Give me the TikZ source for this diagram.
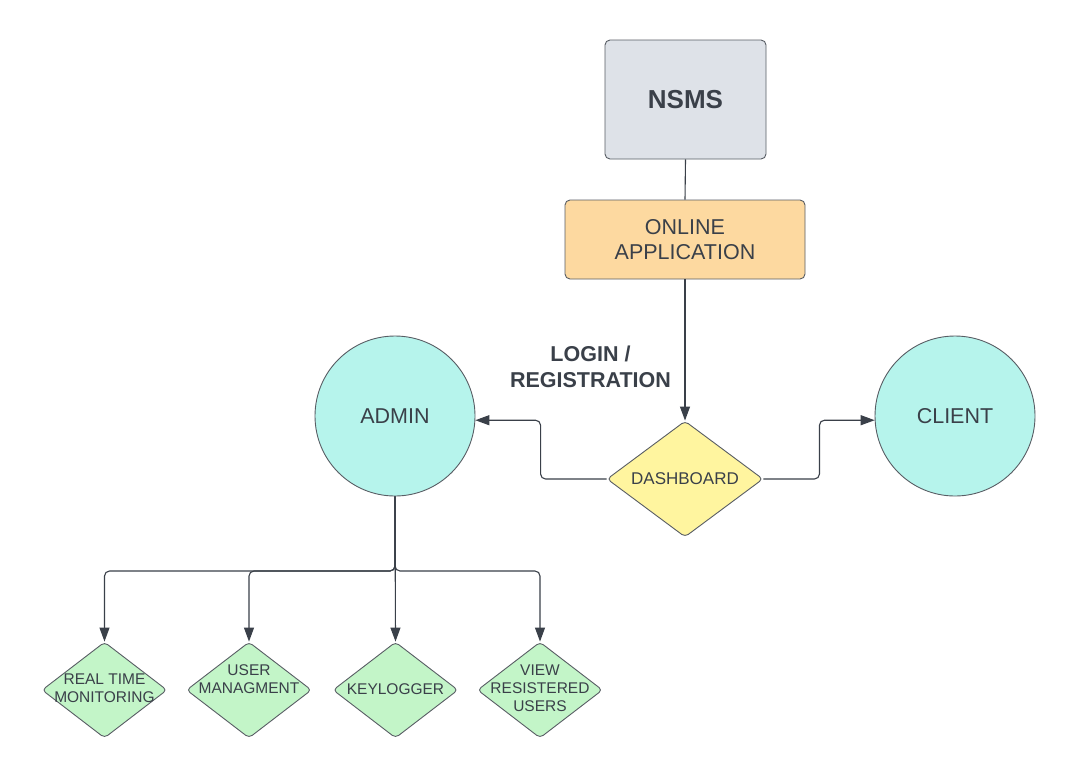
\documentclass[tikz,border=0pt]{standalone}
\usepackage{fontspec}
\setmainfont{Liberation Sans}
\usetikzlibrary{shapes.geometric,arrows.meta}
\definecolor{ink}{HTML}{3A4049}
\definecolor{nsmsfill}{HTML}{DEE2E8}
\definecolor{oafill}{HTML}{FDD9A0}
\definecolor{dashfill}{HTML}{FFF59F}
\definecolor{circfill}{HTML}{B6F4EC}
\definecolor{greenfill}{HTML}{C3F5C8}
\begin{document}
\begin{tikzpicture}[x=1pt,y=-1pt,
  every node/.style={text=ink},
  rbox/.style={draw=ink!85, line width=0.9pt, rounded corners=5pt, align=center},
  circ/.style={circle, draw=ink!85, line width=0.9pt, fill=circfill, minimum size=160pt, inner sep=0pt, font=\fontsize{21.5}{25}\selectfont},
  gdia/.style={diamond, draw=ink!85, line width=0.9pt, fill=greenfill, minimum width=125pt, minimum height=96pt, inner sep=0pt, rounded corners=4pt},
  gtext/.style={align=center, inner sep=0pt, font=\fontsize{15.5}{18}\selectfont},
  conn/.style={draw=ink, line width=1.1pt},
  arr/.style={conn, -{Triangle[length=14pt,width=10pt]}, rounded corners=5pt}
]
\useasboundingbox (0,0) rectangle (1075,780);
\fill[white] (0,0) rectangle (1075,780);

\node[rbox, fill=nsmsfill, minimum width=161pt, minimum height=119pt, font=\fontsize{26}{30}\selectfont\bfseries] (nsms) at (685.5,99.5) {NSMS};
\node[rbox, fill=oafill, minimum width=240pt, minimum height=79pt, font=\fontsize{21.5}{25}\selectfont] (oa) at (685,239.5) {ONLINE\\APPLICATION};
\node[diamond, aspect=1.345, draw=ink!85, line width=0.9pt, fill=dashfill, minimum width=156pt, minimum height=116pt, inner sep=0pt, rounded corners=4pt, font=\fontsize{17}{20}\selectfont] (dash) at (685,479) {DASHBOARD};
\node[circ] (admin) at (395,416) {ADMIN};
\node[circ] (client) at (955,416) {CLIENT};
\node[align=center, font=\fontsize{21.5}{26}\selectfont\bfseries] (login) at (590.5,367) {LOGIN /\\REGISTRATION};

\node[gdia] (rt) at (104.5,690) {};
\node[gdia] (um) at (249,690) {};
\node[gdia] (kl) at (395.5,690) {};
\node[gdia] (vr) at (540,690) {};
\node[gtext] (rtt) at (104.5,688) {REAL TIME\\MONITORING};
\node[gtext] (umt) at (249,679) {USER\\MANAGMENT};
\node[gtext] (klt) at (395.5,689) {KEYLOGGER};
\node[gtext] (vrt) at (540,688) {VIEW\\RESISTERED\\USERS};

\coordinate (bus) at (395,571);

\draw[conn] (nsms.south) -- (oa.north);
\draw[arr] (oa.south) -- (dash.north);
\draw[arr] (dash.west) -- ++(-66,0) |- (admin.-3);
\draw[arr] (dash.east) -- ++(56,0) |- (client.183);
\draw[arr] (admin.south) -- (bus) -| (rt.north);
\draw[arr] (admin.south) -- (bus) -| (um.north);
\draw[arr] (admin.south) -- (kl.north);
\draw[arr] (admin.south) -- (bus) -| (vr.north);
\end{tikzpicture}
\end{document}
